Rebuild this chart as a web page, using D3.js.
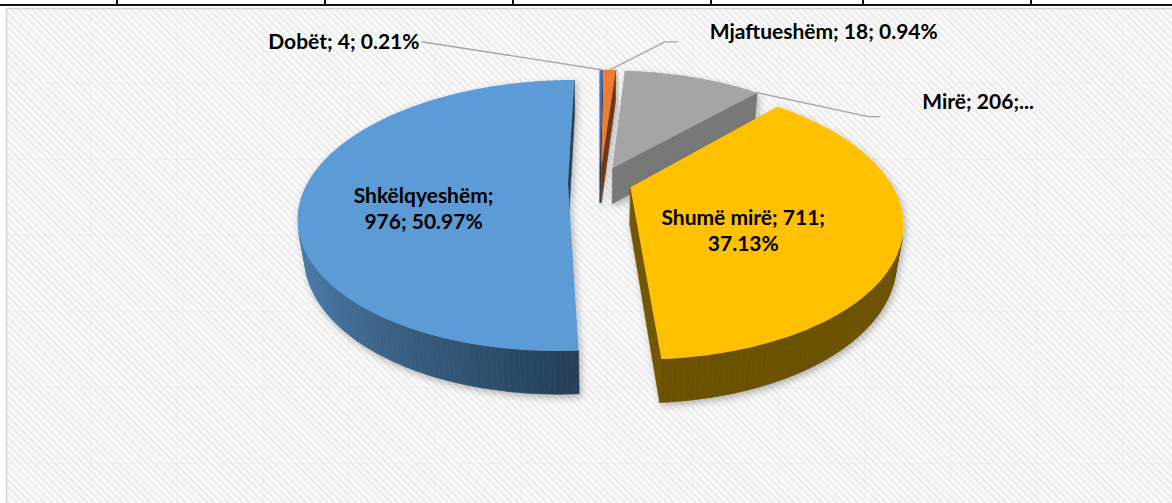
<!DOCTYPE html>
<html>
<head>
<meta charset="UTF-8">
<title>Vlerësimi</title>
<script src="https://cdn.jsdelivr.net/npm/d3@7"></script>
<style>
  body { margin: 0; background: #fff; }
  svg { display: block; }
  text { font-family: Lato, "Open Sans", sans-serif; font-weight: 700; fill: #000; }
</style>
</head>
<body>
<svg id="chart" width="1172" height="503"></svg>
<script>
// data
var categories = ["Dobët", "Mjaftueshëm", "Mirë", "Shumë mirë", "Shkëlqyeshëm"]
var counts = [4, 18, 206, 711, 976]
var percents = ["0.21%", "0.94%", "10.76%", "37.13%", "50.97%"]
var colors = ["#4472C4", "#ED7D31", "#A5A5A5", "#FFC000", "#5B9BD5"]

var svg = d3.select("#chart")
var W = 1172, H = 503

// sheet behind the chart: table border on top, cell grid under the plot
var tableCols = [117, 325, 513, 711, 863, 1031]
var defs = svg.append("defs")
var pat = defs.append("pattern")
  .attr("id", "stripes")
  .attr("width", 5).attr("height", 5)
  .attr("patternUnits", "userSpaceOnUse")
  .attr("patternTransform", "rotate(-45)")
pat.append("rect").attr("width", 5).attr("height", 5).attr("fill", "#fcfcfc")
pat.append("rect").attr("width", 2.5).attr("height", 5).attr("fill", "#ececec")

var shadow = defs.append("filter").attr("id", "shadow")
  .attr("x", "-20%").attr("y", "-20%").attr("width", "140%").attr("height", "140%")
shadow.append("feDropShadow")
  .attr("dx", 2).attr("dy", 3).attr("stdDeviation", 3.5)
  .attr("flood-color", "#000").attr("flood-opacity", 0.28)

svg.append("rect").attr("width", W).attr("height", H).attr("fill", "#fff")
svg.append("rect")
  .attr("x", 6.5).attr("y", 8.5).attr("width", W).attr("height", H)
  .attr("fill", "url(#stripes)")
  .attr("stroke", "#d4d4d4").attr("stroke-width", 1.5)

var gridX = d3.range(90, W, 86), gridY = d3.range(83, H, 76)
svg.append("g").selectAll("line.gx").data(gridX).enter().append("line")
  .attr("x1", d => d + 0.5).attr("x2", d => d + 0.5).attr("y1", 9).attr("y2", H)
  .attr("stroke", "#e6e6e6").attr("stroke-opacity", 0.35)
svg.append("g").selectAll("line.gy").data(gridY).enter().append("line")
  .attr("y1", d => d + 0.5).attr("y2", d => d + 0.5).attr("x1", 7).attr("x2", W)
  .attr("stroke", "#e6e6e6").attr("stroke-opacity", 0.35)

svg.append("line").attr("x1", 0).attr("x2", W).attr("y1", 5).attr("y2", 5)
  .attr("stroke", "#111").attr("stroke-width", 2)
svg.append("g").selectAll("line").data(tableCols).enter().append("line")
  .attr("x1", d => d).attr("x2", d => d).attr("y1", 0).attr("y2", 5)
  .attr("stroke", "#111").attr("stroke-width", 2)

// 3d pie
var cam = { cx: 600, cy: 182, tilt: 29.3 * Math.PI / 180, dist: 933 }
var radius = 260, thick = 43, explode = 32
var ca = Math.cos(cam.tilt), sa = Math.sin(cam.tilt)
var eye = [0, cam.dist * sa, -cam.dist * ca]

function project(p) {
  var yv = p[1] * ca + p[2] * sa
  var zv = p[2] * ca - p[1] * sa
  var k = cam.dist / (cam.dist + zv)
  return [cam.cx + p[0] * k, cam.cy - yv * k]
}

function shade(hex, f) {
  var c = d3.rgb(hex)
  return d3.rgb(c.r * f, c.g * f, c.b * f).formatHex()
}

function visible(pts, n) {
  var c = [0, 0, 0]
  pts.forEach(p => { c[0] += p[0] / pts.length; c[1] += p[1] / pts.length; c[2] += p[2] / pts.length })
  return n[0] * (eye[0] - c[0]) + n[1] * (eye[1] - c[1]) + n[2] * (eye[2] - c[2]) > 0
}

var line = d3.line()
function facePath(pts) { return line(pts.map(project)) + "Z" }

var slices = d3.pie().sort(null).value(d => d)(counts).map((a, i) => {
  var mid = (a.startAngle + a.endAngle) / 2
  var ox = explode * Math.sin(mid), oz = explode * Math.cos(mid)
  var n = Math.max(2, Math.ceil((a.endAngle - a.startAngle) / (Math.PI / 180)))
  var ts = d3.range(n + 1).map(j => a.startAngle + (a.endAngle - a.startAngle) * j / n)
  return {
    i: i, a: a, mid: mid, ox: ox, oz: oz, ts: ts,
    rim: (t, y) => [ox + radius * Math.sin(t), y, oz + radius * Math.cos(t)],
    center: y => [ox, y, oz]
  }
})

var pieG = svg.append("g")
slices.slice().sort((p, q) => q.oz - p.oz).forEach(s => {
  var g = pieG.append("g").attr("filter", "url(#shadow)")
  var col = colors[s.i]
  var a0 = s.a.startAngle, a1 = s.a.endAngle
  var walls = []

  // radial walls, lit from the front
  var w0 = [s.center(0), s.rim(a0, 0), s.rim(a0, -thick), s.center(-thick)]
  var n0 = [-Math.cos(a0), 0, Math.sin(a0)]
  var w1 = [s.center(0), s.rim(a1, 0), s.rim(a1, -thick), s.center(-thick)]
  var n1 = [Math.cos(a1), 0, -Math.sin(a1)]
  ;[[w0, n0], [w1, n1]].forEach(w => {
    if (visible(w[0], w[1])) walls.push({ pts: w[0], f: 0.42 + 0.45 * Math.max(0, -w[1][2]) })
  })

  // outer wall, lit from the left
  for (var j = 0; j < s.ts.length - 1; j++) {
    var t0 = s.ts[j], t1 = s.ts[j + 1], tm = (t0 + t1) / 2
    var q = [s.rim(t0, 0), s.rim(t1, 0), s.rim(t1, -thick), s.rim(t0, -thick)]
    var nq = [Math.sin(tm), 0, Math.cos(tm)]
    if (visible(q, nq)) walls.push({ pts: q, f: 0.42 + 0.4 * Math.max(0, -Math.sin(tm)) })
  }

  g.selectAll("path.wall").data(walls).enter().append("path")
    .attr("d", d => facePath(d.pts))
    .attr("fill", d => shade(col, d.f))
    .attr("stroke", d => shade(col, d.f))
    .attr("stroke-width", 0.6)
    .attr("stroke-linejoin", "round")

  var top = [s.center(0)].concat(s.ts.map(t => s.rim(t, 0)))
  s.topPts = top.map(project)
  g.append("path").attr("d", line(s.topPts) + "Z").attr("fill", col)
})

// labels
function labelParts(i) { return [categories[i], counts[i], percents[i]] }
var labelLayout = [
  { kind: "out", frac: 0.5, anchor: "end", dx: -182, dy: -21, leader: [[-180, -28]] },
  { kind: "out", frac: 0.5, anchor: "start", dx: 100, dy: -31, leader: [[55, -28], [68, -28]] },
  { kind: "out", frac: 1.0, anchor: "start", dx: 165, dy: 16, leader: [[111, 24], [123, 24]], cut: 2 },
  { kind: "in", split: 2, dx: -20, dy: -4 },
  { kind: "in", split: 1, dx: -32, dy: -9 }
]
var fontSize = 21, lineGap = 26
var labG = svg.append("g")

slices.forEach(s => {
  var L = labelLayout[s.i], parts = labelParts(s.i)
  if (L.kind === "out") {
    var t = s.a.startAngle + (s.a.endAngle - s.a.startAngle) * L.frac
    var p = project(s.rim(t, 0))
    var pts = [p].concat(L.leader.map(o => [p[0] + o[0], p[1] + o[1]]))
    labG.append("path").attr("d", line(pts.reverse()))
      .attr("fill", "none").attr("stroke", "#a6a6a6").attr("stroke-width", 1.3)
    var txt = L.cut ? parts.slice(0, L.cut).join("; ") + ";..." : parts.join("; ")
    labG.append("text")
      .attr("x", p[0] + L.dx).attr("y", p[1] + L.dy)
      .attr("text-anchor", L.anchor)
      .style("font-size", fontSize + "px")
      .text(txt)
  } else {
    var c = d3.polygonCentroid(s.topPts)
    var lines = [parts.slice(0, L.split).join("; ") + ";", parts.slice(L.split).join("; ")]
    lines.forEach((ln, k) => {
      labG.append("text")
        .attr("x", c[0] + L.dx).attr("y", c[1] + L.dy + (k - 0.5) * lineGap + 7)
        .attr("text-anchor", "middle")
        .style("font-size", fontSize + "px")
        .text(ln)
    })
  }
})
</script>
</body>
</html>
